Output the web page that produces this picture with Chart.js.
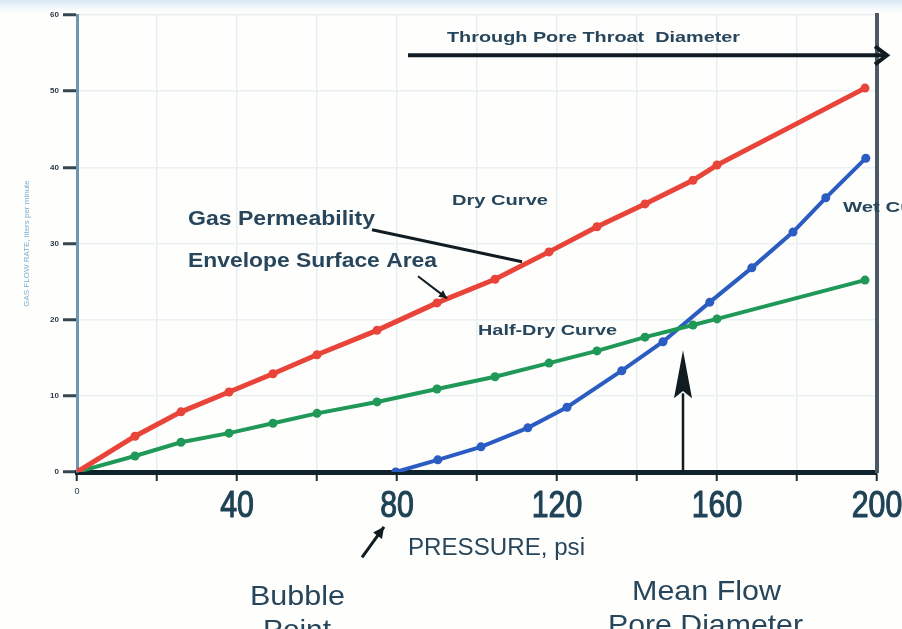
<!DOCTYPE html>
<html><head><meta charset="utf-8">
<script src="https://cdn.jsdelivr.net/npm/chart.js@4/dist/chart.umd.min.js"></script>
<style>html,body{margin:0;padding:0;background:#fff;overflow:hidden}canvas{display:block}</style>
</head><body>
<canvas id="c" width="902" height="629"></canvas>
<script>
// ---- data (pressure in psi, flow in axis units) ----
const dryPressure = [0, 14.5, 26, 38, 49, 60, 75, 90, 104.5, 118, 130, 142, 154, 160, 197];
const dryFlow     = [0, 4.7, 7.9, 10.5, 12.9, 15.4, 18.6, 22.2, 25.3, 28.9, 32.2, 35.2, 38.3, 40.3, 50.4];
const halfDryPressure = [0, 14.5, 26, 38, 49, 60, 75, 90, 104.5, 118, 130, 142, 154, 160, 197];
const halfDryFlow     = [0, 2.1, 3.9, 5.1, 6.4, 7.7, 9.2, 10.9, 12.5, 14.3, 15.9, 17.7, 19.3, 20.1, 25.2];
const wetPressure = [79.7, 90.2, 101, 112.7, 122.5, 136.2, 146.5, 158.2, 168.7, 179, 187.2, 197.2];
const wetFlow     = [0, 1.6, 3.3, 5.8, 8.5, 13.3, 17.1, 22.3, 26.8, 31.5, 36.0, 41.2];
const xTickLabels = [0, 40, 80, 120, 160, 200];
const yTickLabels = [0, 10, 20, 30, 40, 50, 60];

const pts = (xs, ys) => xs.map((x, i) => ({x, y: ys[i]}));
const TXT = '#27465c';
const FAM = "'Liberation Sans', Arial, sans-serif";

// annotations in data coordinates
const notes = [
  {t:'Through Pore Throat  Diameter', x:92.5, y:57.0, size:15, w:'bold', width:293},
  {t:'Dry Curve', x:93.75, y:35.6, size:14, w:'bold', width:96},
  {t:'Gas Permeability', x:27.75, y:33.1, size:20, w:'bold', width:187},
  {t:'Envelope Surface Area', x:27.75, y:27.6, size:20, w:'bold', width:249},
  {t:'Half-Dry Curve', x:100.25, y:18.5, size:14, w:'bold', width:139},
  {t:'Wet Curve', x:191.5, y:34.6, size:14, w:'bold', width:100},
  {t:'PRESSURE, psi', x:82.75, y:-10, size:23, w:'normal', width:177},
  {t:'Bubble', x:43.25, y:-16.5, size:28, w:'normal', width:95},
  {t:'Point', x:46.5, y:-20.9, size:28, w:'normal', width:68},
  {t:'Mean Flow', x:138.75, y:-15.75, size:28, w:'normal', width:149},
  {t:'Pore Diameter', x:132.75, y:-20.3, size:28, w:'normal', width:195}
];
const arrows = [
  {x1:82.75, y1:54.7, x2:202.5, y2:54.7, lw:4, head:'open', hs:12},
  {x1:151.5, y1:0, x2:151.5, y2:16.0, lw:2.5, head:'long', hs:48},
  {x1:73.75, y1:31.8, x2:111.25, y2:27.6, lw:3, head:null},
  {x1:85.25, y1:25.7, x2:92.5, y2:22.8, lw:2, head:'fill', hs:8},
  {x1:71.25, y1:-11.2, x2:76.75, y2:-7.2, lw:3, head:'fill', hs:11}
];

const bgPlugin = {
  id:'bg',
  beforeDraw(chart){
    const c = chart.ctx;
    c.save();
    c.fillStyle = '#fefefc';
    c.fillRect(0,0,chart.width,chart.height);
    const g = c.createLinearGradient(0,0,0,16);
    g.addColorStop(0,'#d3e6f3'); g.addColorStop(1,'rgba(255,255,255,0)');
    c.fillStyle = g; c.fillRect(0,0,chart.width,16);
    c.restore();
  }
};

// x tick labels drawn with a condensed (horizontally scaled) face, at the scale's tick positions
const xLabelPlugin = {
  id:'xlabels',
  afterDraw(chart){
    const c = chart.ctx, xs = chart.scales.x;
    c.save();
    c.fillStyle = '#1f4257'; c.strokeStyle = '#1f4257';
    c.textAlign = 'center'; c.textBaseline = 'alphabetic';
    xs.ticks.forEach(t => {
      if (!xTickLabels.includes(t.value)) return;
      const x = xs.getPixelForValue(t.value);
      c.save();
      if (t.value === 0) {
        c.font = `9px ${FAM}`;
        c.fillText(String(t.value), x, xs.top + 22);
      } else {
        c.font = `36px ${FAM}`;
        c.translate(x, xs.top + 45);
        c.scale(0.84, 1);
        c.lineWidth = 1.1;
        c.fillText(String(t.value), 0, 0);
        c.strokeText(String(t.value), 0, 0);
      }
      c.restore();
    });
    c.restore();
  }
};

const annPlugin = {
  id:'ann',
  afterDraw(chart){
    const c = chart.ctx, xs = chart.scales.x, ys = chart.scales.y;
    const X = v => xs.getPixelForValue(v), Y = v => ys.getPixelForValue(v);
    c.save();
    c.strokeStyle = '#101c22'; c.fillStyle = '#101c22'; c.lineCap = 'butt';
    arrows.forEach(a => {
      const x1 = X(a.x1), y1 = Y(a.y1), x2 = X(a.x2), y2 = Y(a.y2);
      const ang = Math.atan2(y2-y1, x2-x1);
      c.lineWidth = a.lw;
      c.beginPath(); c.moveTo(x1,y1);
      if (a.head === 'long') c.lineTo(x2 - Math.cos(ang)*a.hs*0.9, y2 - Math.sin(ang)*a.hs*0.9);
      else c.lineTo(x2,y2);
      c.stroke();
      if (a.head === 'open') {
        c.beginPath();
        c.moveTo(x2 - a.hs, y2 - a.hs*0.75); c.lineTo(x2, y2); c.lineTo(x2 - a.hs, y2 + a.hs*0.75);
        c.stroke();
      } else if (a.head === 'fill' || a.head === 'long') {
        const hw = a.head === 'long' ? 9 : a.hs*0.5;
        const bx = x2 - Math.cos(ang)*a.hs, by = y2 - Math.sin(ang)*a.hs;
        const nx = -Math.sin(ang), ny = Math.cos(ang);
        const nb = a.head === 'long' ? 0.85 : 1;
        c.beginPath();
        c.moveTo(x2,y2);
        c.lineTo(bx + nx*hw, by + ny*hw);
        c.lineTo(x2 - Math.cos(ang)*a.hs*nb, y2 - Math.sin(ang)*a.hs*nb);
        c.lineTo(bx - nx*hw, by - ny*hw);
        c.closePath(); c.fill();
      }
    });
    c.fillStyle = TXT; c.textBaseline = 'middle'; c.textAlign = 'left';
    notes.forEach(n => {
      c.save();
      c.font = `${n.w} ${n.size}px ${FAM}`;
      const m = c.measureText(n.t).width;
      c.translate(X(n.x), Y(n.y));
      c.scale(n.width / m, 1);
      c.fillText(n.t, 0, 0);
      c.restore();
    });
    c.restore();
  }
};

const ds = (label, data, color, bw) => ({
  label, data, borderColor: color, backgroundColor: color, borderWidth: bw,
  pointRadius: 4.5, pointHoverRadius: 4.5, pointBorderWidth: 0, tension: 0, fill: false
});

new Chart(document.getElementById('c').getContext('2d'), {
  type: 'line',
  data: { datasets: [
    ds('Dry Curve', pts(dryPressure, dryFlow), '#e8443a', 5),
    ds('Half-Dry Curve', pts(halfDryPressure, halfDryFlow), '#1f9858', 4),
    ds('Wet Curve', pts(wetPressure, wetFlow), '#2b5cc2', 4)
  ]},
  options: {
    responsive: false, animation: false, events: [],
    layout: { padding: { top: 15, right: 25, left: 0, bottom: 0 } },
    plugins: { legend: { display: false }, tooltip: { enabled: false } },
    scales: {
      x: {
        type: 'linear', min: 0, max: 200,
        ticks: { stepSize: 20, autoSkip: false, maxRotation: 0, display: false },
        grid: { color: '#e7eef2', lineWidth: 1.5, tickColor: '#1b2f3a', tickLength: 9, tickWidth: 2 },
        border: { color: '#10222b', width: 5 },
        afterFit: s => { s.height = 157; s.paddingLeft = 0; s.paddingRight = 0; }
      },
      y: {
        min: 0, max: 60,
        ticks: { stepSize: 10, padding: 4, color: '#2a3a48', font: { size: 8, weight: 'bold', family: FAM },
                 callback: v => yTickLabels.includes(v) ? String(v) : '' },
        grid: { color: '#eaf0f2', lineWidth: 1.5, tickColor: '#34474f', tickLength: 14, tickWidth: 3 },
        border: { color: '#6e97b1', width: 3 },
        title: { display: true, text: 'GAS FLOW RATE, liters per minute', color: '#7aaed2',
                 font: { size: 8, family: FAM }, padding: { top: 22, bottom: 0 } },
        afterFit: s => { s.width = 77; s.paddingTop = 0; s.paddingBottom = 0; }
      },
      y2: {
        position: 'right', min: 0, max: 60,
        ticks: { display: false },
        grid: { display: false, drawTicks: false },
        border: { color: '#4a5b66', width: 4 },
        afterFit: s => { s.width = 0; s.paddingTop = 0; s.paddingBottom = 0; }
      }
    }
  },
  plugins: [bgPlugin, xLabelPlugin, annPlugin]
});
</script>
</body></html>
